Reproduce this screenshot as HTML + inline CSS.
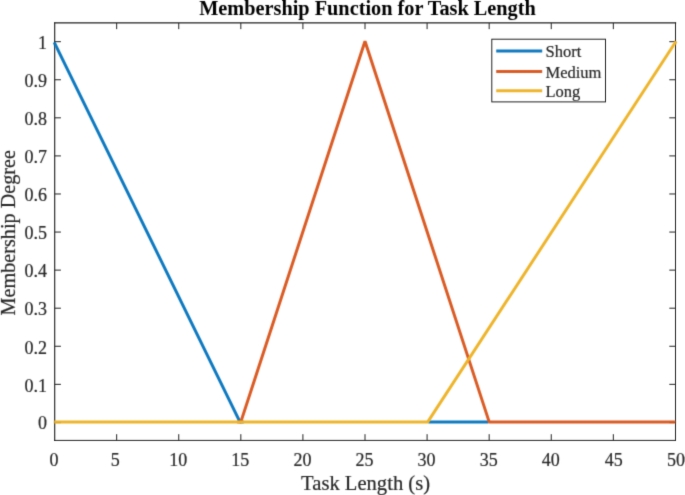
<!DOCTYPE html>
<html><head><meta charset="utf-8"><style>html,body{margin:0;padding:0;background:#fff;width:685px;height:495px;overflow:hidden}svg{display:block}</style></head>
<body><svg width="685" height="495" viewBox="0 0 685 495" font-family="Liberation Serif">
<defs><filter id="b" filterUnits="userSpaceOnUse" x="0" y="0" width="685" height="495" color-interpolation-filters="sRGB"><feConvolveMatrix order="3" kernelMatrix="0.0196 0.1008 0.0196 0.1008 0.5184 0.1008 0.0196 0.1008 0.0196" preserveAlpha="false"/></filter><filter id="bl" filterUnits="userSpaceOnUse" x="0" y="0" width="685" height="495" color-interpolation-filters="sRGB"><feConvolveMatrix order="3" kernelMatrix="0.0196 0.1008 0.0196 0.1008 0.5184 0.1008 0.0196 0.1008 0.0196" preserveAlpha="false"/></filter><filter id="ba" filterUnits="userSpaceOnUse" x="0" y="0" width="685" height="495" color-interpolation-filters="sRGB"><feConvolveMatrix order="3" kernelMatrix="0.0100 0.0800 0.0100 0.0800 0.6400 0.0800 0.0100 0.0800 0.0100" preserveAlpha="false"/></filter></defs><rect width="685" height="495" fill="#fff"/>
<g filter="url(#ba)"><path d="M116.68,440.4V434.2M116.68,22.95V29.15M178.76,440.4V434.2M178.76,22.95V29.15M240.84,440.4V434.2M240.84,22.95V29.15M302.92,440.4V434.2M302.92,22.95V29.15M365.00,440.4V434.2M365.00,22.95V29.15M427.08,440.4V434.2M427.08,22.95V29.15M489.16,440.4V434.2M489.16,22.95V29.15M551.24,440.4V434.2M551.24,22.95V29.15M613.32,440.4V434.2M613.32,22.95V29.15M54.7,422.40H60.900000000000006M675.5,422.40H669.3M54.7,384.33H60.900000000000006M675.5,384.33H669.3M54.7,346.26H60.900000000000006M675.5,346.26H669.3M54.7,308.19H60.900000000000006M675.5,308.19H669.3M54.7,270.12H60.900000000000006M675.5,270.12H669.3M54.7,232.05H60.900000000000006M675.5,232.05H669.3M54.7,193.98H60.900000000000006M675.5,193.98H669.3M54.7,155.91H60.900000000000006M675.5,155.91H669.3M54.7,117.84H60.900000000000006M675.5,117.84H669.3M54.7,79.77H60.900000000000006M675.5,79.77H669.3M54.7,41.70H60.900000000000006M675.5,41.70H669.3" stroke="#262626" stroke-width="1" fill="none"/><g stroke="#262626" fill="none" stroke-linecap="square"><path d="M54.7,22.95H675.5" stroke-width="1.3"/><path d="M54.7,440.4H675.5" stroke-width="1"/><path d="M54.7,22.95V440.4" stroke-width="1.15"/><path d="M675.5,22.95V440.4" stroke-width="1"/></g></g><g filter="url(#bl)"><polyline points="54.23,42.29 239.94,421.90 243.66,421.90" fill="none" stroke="#0D79C0" stroke-width="3.0" stroke-linejoin="bevel" stroke-linecap="butt"/><polyline points="428.32,421.90 488.54,421.90" fill="none" stroke="#0D79C0" stroke-width="3.0" stroke-linejoin="bevel" stroke-linecap="butt"/><polyline points="237.12,421.90 240.84,421.90 365.00,41.20 489.16,421.90 675.40,421.90" fill="none" stroke="#DA5B24" stroke-width="3.0" stroke-linejoin="bevel" stroke-linecap="butt"/><polyline points="54.10,421.90 427.78,421.90 676.10,41.20" fill="none" stroke="#EEB42B" stroke-width="3.0" stroke-linejoin="bevel" stroke-linecap="butt"/></g><g filter="url(#b)" stroke="#262626" stroke-width="0.2"><g font-size="18" fill="#262626"><text x="54.10" y="465.5" text-anchor="middle">0</text><text x="115.18" y="465.5" text-anchor="middle">5</text><text x="178.26" y="465.5" text-anchor="middle">10</text><text x="240.34" y="465.5" text-anchor="middle">15</text><text x="302.42" y="465.5" text-anchor="middle">20</text><text x="364.50" y="465.5" text-anchor="middle">25</text><text x="426.58" y="465.5" text-anchor="middle">30</text><text x="488.66" y="465.5" text-anchor="middle">35</text><text x="550.74" y="465.5" text-anchor="middle">40</text><text x="613.82" y="465.5" text-anchor="middle">45</text><text x="676.10" y="465.5" text-anchor="middle">50</text><text x="47" y="429.10" text-anchor="end">0</text><text x="47" y="391.63" text-anchor="end">0.1</text><text x="47" y="353.56" text-anchor="end">0.2</text><text x="47" y="315.49" text-anchor="end">0.3</text><text x="47" y="277.42" text-anchor="end">0.4</text><text x="47" y="239.35" text-anchor="end">0.5</text><text x="47" y="201.28" text-anchor="end">0.6</text><text x="47" y="163.21" text-anchor="end">0.7</text><text x="47" y="125.14" text-anchor="end">0.8</text><text x="47" y="87.07" text-anchor="end">0.9</text><text x="47" y="49.00" text-anchor="end">1</text></g><text x="365.6" y="490" text-anchor="middle" font-size="20.6" fill="#262626">Task Length (s)</text><text transform="translate(15.2,232.7) rotate(-90)" text-anchor="middle" font-size="20.2" fill="#262626">Membership Degree</text><text x="367.5" y="15" text-anchor="middle" font-weight="bold" font-size="20.3" fill="#000" stroke="none">Membership Function for Task Length</text></g><rect x="491.8" y="39.2" width="113.70" height="62.70" fill="#fff" stroke="#262626" stroke-width="1" filter="url(#ba)"/><line x1="496.2" y1="51.0" x2="542.2" y2="51.0" stroke="#0D79C0" stroke-width="3" filter="url(#bl)"/><text x="545.5" y="57.40" font-size="16.5" fill="#262626" stroke="#262626" stroke-width="0.2" filter="url(#b)">Short</text><line x1="496.2" y1="71.4" x2="542.2" y2="71.4" stroke="#DA5B24" stroke-width="3" filter="url(#bl)"/><text x="545.5" y="77.80" font-size="16.5" fill="#262626" stroke="#262626" stroke-width="0.2" filter="url(#b)">Medium</text><line x1="496.2" y1="90.8" x2="542.2" y2="90.8" stroke="#EEB42B" stroke-width="3" filter="url(#bl)"/><text x="545.5" y="97.20" font-size="16.5" fill="#262626" stroke="#262626" stroke-width="0.2" filter="url(#b)">Long</text>
</svg></body></html>
